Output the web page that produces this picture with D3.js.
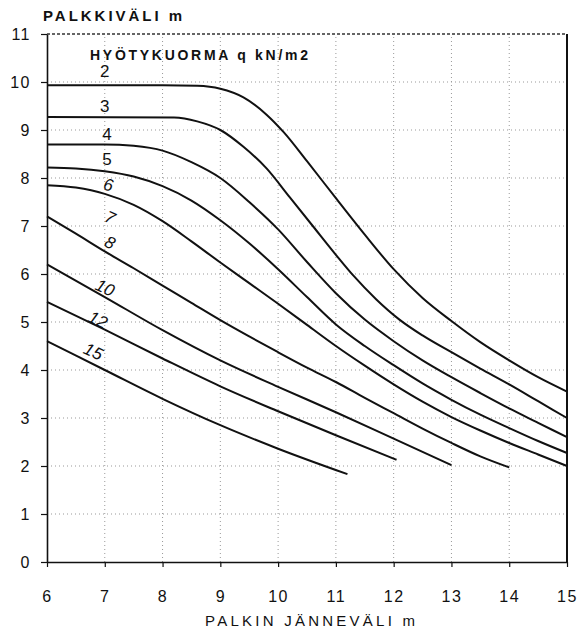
<!DOCTYPE html>
<html>
<head>
<meta charset="utf-8">
<script src="https://cdn.jsdelivr.net/npm/d3@7"></script>
<style>
  body { margin: 0; background: #fff; }
  svg { font-family: "Liberation Sans", Arial, sans-serif; }
</style>
</head>
<body>
<script>
// span (m) vs beam spacing (m) for each live load q kN/m2
const q2 = [[6, 9.93], [8, 9.93], [8.6, 9.92], [9, 9.86], [9.4, 9.68], [9.8, 9.32], [10.1, 8.95], [10.5, 8.35], [11, 7.58], [11.5, 6.82], [12, 6.1], [12.5, 5.5], [13, 5.02], [13.5, 4.58], [14, 4.2], [14.5, 3.85], [15, 3.55]]
const q3 = [[6, 9.27], [8.2, 9.26], [8.6, 9.18], [9, 9.0], [9.4, 8.65], [9.8, 8.2], [10.2, 7.6], [10.6, 7.0], [11, 6.4], [11.3, 5.97], [11.7, 5.47], [12.1, 5.05], [12.5, 4.72], [13, 4.37], [13.5, 4.03], [14, 3.7], [14.5, 3.35], [15, 3.0]]
const q4 = [[6, 8.7], [7, 8.7], [7.5, 8.67], [8, 8.57], [8.5, 8.33], [9, 8.0], [9.5, 7.5], [10, 6.93], [10.5, 6.25], [11, 5.6], [11.5, 5.05], [12, 4.6], [12.5, 4.2], [13, 3.85], [13.5, 3.52], [14, 3.2], [14.5, 2.9], [15, 2.6]]
const q5 = [[6, 8.22], [6.5, 8.2], [7, 8.14], [7.5, 8.03], [8, 7.83], [8.5, 7.53], [9, 7.12], [9.5, 6.64], [10, 6.1], [10.5, 5.52], [11, 4.95], [11.5, 4.5], [12, 4.1], [12.5, 3.72], [13, 3.38], [13.5, 3.07], [14, 2.79], [14.5, 2.52], [15, 2.27]]
const q6 = [[6, 7.85], [6.5, 7.8], [7, 7.67], [7.5, 7.44], [8, 7.1], [8.5, 6.68], [9, 6.24], [9.5, 5.81], [10, 5.38], [10.5, 4.94], [11, 4.5], [11.5, 4.09], [12, 3.7], [12.5, 3.34], [13, 3.02], [13.5, 2.74], [14, 2.48], [14.5, 2.24], [15, 2.0]]
const q8 = [[6, 7.2], [6.5, 6.84], [7, 6.47], [7.5, 6.12], [8, 5.76], [8.5, 5.4], [9, 5.04], [9.5, 4.7], [10, 4.37], [10.5, 4.05], [11, 3.75], [11.5, 3.42], [12, 3.1], [12.5, 2.78], [13, 2.48], [13.5, 2.2], [14, 1.97]]
const q10 = [[6, 6.2], [7, 5.52], [8, 4.83], [9, 4.2], [10, 3.65], [11, 3.12], [12, 2.57], [13, 2.02]]
const q12 = [[6, 5.42], [7, 4.84], [8, 4.24], [9, 3.66], [10, 3.14], [11, 2.64], [12.05, 2.13]]
const q15 = [[6, 4.6], [7, 4.0], [8, 3.4], [9, 2.85], [10, 2.36], [11.2, 1.83]]

const curves = [q2, q3, q4, q5, q6, q8, q10, q12, q15]

// curve labels and where they sit (in chart units)
const labelText = ["2", "3", "4", "5", "6", "7", "8", "10", "12", "15"]
const labelSpan = [7.0, 7.0, 7.04, 7.04, 7.06, 7.09, 7.09, 7.0, 6.88, 6.8]
const labelValue = [10.21, 9.48, 8.9, 8.38, 7.85, 7.17, 6.65, 5.71, 5.04, 4.38]
const labelTilt = [0, 0, 0, 0, 12, 25, 25, 25, 25, 25]

const xTicks = [6, 7, 8, 9, 10, 11, 12, 13, 14, 15]
const yTicks = [0, 1, 2, 3, 4, 5, 6, 7, 8, 9, 10, 11]

const w = 581
const h = 634

const svg = d3.select("body").append("svg")
  .attr("width", w)
  .attr("height", h)

const x = d3.scaleLinear().domain([6, 15]).range([47, 567])
const y = d3.scaleLinear().domain([0, 11]).range([562, 34])

// dotted grid
svg.append("g").selectAll("line")
  .data(xTicks.slice(1, -1))
  .enter().append("line")
  .attr("x1", d => x(d)).attr("x2", d => x(d))
  .attr("y1", y(0)).attr("y2", y(11))
  .attr("stroke", "#999").attr("stroke-width", 1)
  .attr("stroke-dasharray", "1,3")

svg.append("g").selectAll("line")
  .data(yTicks.slice(1, -1))
  .enter().append("line")
  .attr("x1", x(6)).attr("x2", x(15))
  .attr("y1", d => y(d)).attr("y2", d => y(d))
  .attr("stroke", "#999").attr("stroke-width", 1)
  .attr("stroke-dasharray", "1,3")

// top and right border
svg.append("line")
  .attr("x1", x(6)).attr("x2", x(15))
  .attr("y1", y(11)).attr("y2", y(11))
  .attr("stroke", "#333").attr("stroke-width", 1.3)
  .attr("stroke-dasharray", "3,2")
svg.append("line")
  .attr("x1", x(15)).attr("x2", x(15))
  .attr("y1", y(11)).attr("y2", y(0))
  .attr("stroke", "#111").attr("stroke-width", 2)

// axes
const xAxis = d3.axisBottom(x).tickValues(xTicks).tickSize(5).tickPadding(24).tickSizeOuter(0)
const yAxis = d3.axisLeft(y).tickValues(yTicks).tickSize(6).tickPadding(10).tickSizeOuter(0)

const gx = svg.append("g")
  .attr("transform", "translate(0," + y(0) + ")")
  .call(xAxis)
const gy = svg.append("g")
  .attr("transform", "translate(" + x(6) + ",0)")
  .call(yAxis)

;[gx, gy].forEach(g => {
  g.selectAll("path").attr("stroke", "#111").attr("stroke-width", 1.6)
  g.selectAll("line").attr("stroke", "#111").attr("stroke-width", 1.2)
  g.selectAll("text")
    .style("font-size", "16px")
    .style("letter-spacing", "1.5px")
    .attr("fill", "#111")
})

// curves
const line = d3.line()
  .x(d => x(d[0]))
  .y(d => y(d[1]))
  .curve(d3.curveMonotoneX)

svg.append("g").selectAll("path")
  .data(curves)
  .enter().append("path")
  .attr("d", line)
  .attr("fill", "none")
  .attr("stroke", "#111")
  .attr("stroke-width", 2)

// curve labels
svg.append("g").selectAll("text")
  .data(labelText)
  .enter().append("text")
  .attr("transform", (d, i) => "translate(" + x(labelSpan[i]) + "," + y(labelValue[i]) + ") rotate(" + labelTilt[i] + ")")
  .attr("text-anchor", "middle")
  .attr("dominant-baseline", "central")
  .style("font-size", "17px")
  .style("font-style", (d, i) => labelTilt[i] ? "italic" : "normal")
  .attr("fill", "#111")
  .text(d => d)

// titles
svg.append("text")
  .attr("x", 43).attr("y", 21)
  .attr("textLength", 139).attr("lengthAdjust", "spacing")
  .style("font-size", "15px").style("font-weight", "bold")
  .attr("fill", "#111")
  .text("PALKKIVÄLI m")

svg.append("text")
  .attr("x", 90).attr("y", 60)
  .attr("textLength", 218).attr("lengthAdjust", "spacing")
  .style("font-size", "14px").style("font-weight", "bold")
  .attr("fill", "#111")
  .text("HYÖTYKUORMA q kN/m2")

svg.append("text")
  .attr("x", 205).attr("y", 626)
  .attr("textLength", 210).attr("lengthAdjust", "spacing")
  .style("font-size", "15px")
  .attr("fill", "#111")
  .text("PALKIN JÄNNEVÄLI m")
</script>
</body>
</html>
